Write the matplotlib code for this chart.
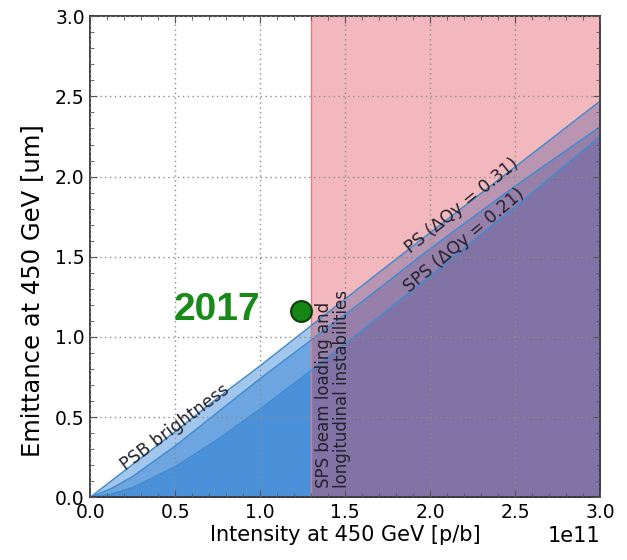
import numpy as np
import matplotlib.pyplot as plt
from matplotlib.ticker import MultipleLocator

plt.rcParams['font.family'] = ['DejaVu Sans']

# intensity grid [1e11 p/b] and emittance limits [um]
intensity = np.array([0.0, 0.125, 0.25, 0.5, 0.75, 1.0, 1.3, 1.6, 2.0, 2.5, 3.0]) * 1e11
psb_brightness = [0.0, 0.103, 0.205, 0.41, 0.62, 0.82, 1.07, 1.32, 1.65, 2.06, 2.47]
ps_limit = [0.0, 0.055, 0.13, 0.32, 0.53, 0.74, 0.98, 1.22, 1.55, 1.94, 2.31]
sps_limit = [0.0, 0.02, 0.06, 0.19, 0.36, 0.55, 0.79, 1.04, 1.38, 1.81, 2.25]

sps_loading_limit = 1.3e11  # SPS beam loading / longitudinal instabilities
run_2017 = (1.24e11, 1.16)

fig = plt.figure(figsize=(6.27, 5.6), dpi=100)
ax = fig.add_axes([0.144, 0.112, 0.813, 0.859])

blue = '#1a73d0'
for curve in (psb_brightness, ps_limit, sps_limit):
    ax.fill_between(intensity, 0, curve, color=blue, alpha=0.4, lw=0, zorder=1)

# forbidden region above the SPS intensity limit
ax.axvspan(sps_loading_limit, 3e11, color='#e0404c', alpha=0.37, lw=0, zorder=1.5)
ax.axvline(sps_loading_limit, color='#e07a86', lw=1.0, zorder=1.6)

for curve in (psb_brightness, ps_limit, sps_limit):
    ax.plot(intensity, curve, color='#3f8ad0', lw=1.1, zorder=2)

# 2017 operational point
ax.plot(*run_2017, 'o', ms=15, color='#158515', mec='#0d3d0d', mew=1.5, zorder=5)
ax.text(1.0e11, 1.17, '2017', color='#178a17', fontsize=28, fontweight='bold',
        family=['Liberation Sans', 'DejaVu Sans'], ha='right', va='center', zorder=5)

txt = '#22222c'
ax.text(0.50e11, 0.435, 'PSB brightness', rotation=37, fontsize=12.5, color=txt,
        ha='center', va='center', rotation_mode='anchor')
ax.text(2.19e11, 1.82, 'PS (ΔQy = 0.31)', rotation=39, fontsize=12.5, color=txt,
        ha='center', va='center', rotation_mode='anchor')
ax.text(2.20e11, 1.60, 'SPS (ΔQy = 0.21)', rotation=40, fontsize=12.5, color=txt,
        ha='center', va='center', rotation_mode='anchor')
ax.text(1.325e11, 0.06, 'SPS beam loading and\nlongitudinal instabilities', rotation=90,
        fontsize=12, color=txt, ha='left', va='bottom', multialignment='left',
        linespacing=1.0)

ax.set_xlim(0, 3e11)
ax.set_ylim(0, 3.0)
ax.xaxis.set_major_locator(MultipleLocator(0.5e11))
ax.xaxis.set_minor_locator(MultipleLocator(0.1e11))
ax.yaxis.set_major_locator(MultipleLocator(0.5))
ax.yaxis.set_minor_locator(MultipleLocator(0.1))

ax.set_axisbelow(False)
ax.grid(True, which='major', color='#8c8c8c', lw=1.0, dashes=(1, 2.5))

ax.tick_params(which='both', direction='in', top=True, right=True, color='#555555')
ax.tick_params(which='major', length=5, labelsize=13.5, pad=4)
ax.tick_params(which='minor', length=3)
for s in ax.spines.values():
    s.set_color('#333333')
    s.set_linewidth(1.3)

ax.xaxis.get_offset_text().set_fontsize(15)
ax.set_xlabel('Intensity at 450 GeV [p/b]', fontsize=15, labelpad=2)
ax.set_ylabel('Emittance at 450 GeV [um]', fontsize=17.5)
ax.yaxis.set_label_coords(-0.09, 0.43)

fig.savefig('out.png', dpi=100)
